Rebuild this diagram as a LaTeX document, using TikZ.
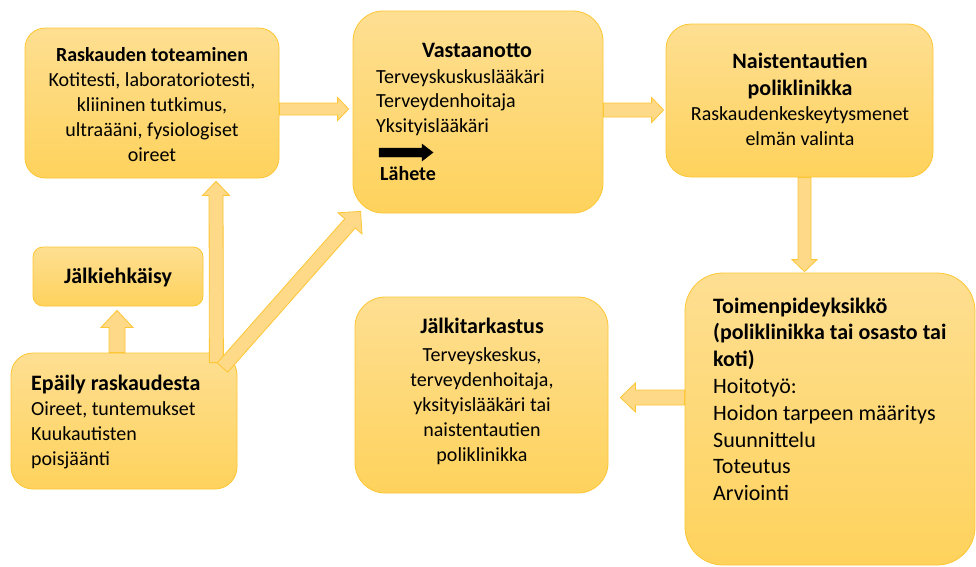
\documentclass[tikz,border=0pt]{standalone}
\usepackage{fontspec}
\setmainfont{Carlito}
\usetikzlibrary{calc}
\definecolor{bxline}{RGB}{252,198,52}
\definecolor{bxtop}{RGB}{254,223,146}
\definecolor{bxbot}{RGB}{254,210,92}
\definecolor{arfill}{RGB}{254,218,136}
\newcommand\fA{\fontsize{20}{25}\selectfont}
\newcommand\fB{\fontsize{22}{25}\selectfont}
\newcommand\blockarrow[6]{%
  \coordinate (bH) at ($(#3)!#6!(#2)$);
  \draw[#1] ($(#2)!#4!90:(#3)$) -- ($(bH)!#4!90:(#3)$) -- ($(bH)!#5!90:(#3)$) -- (#3)
    -- ($(bH)!#5!-90:(#3)$) -- ($(bH)!#4!-90:(#3)$) -- ($(#2)!#4!-90:(#3)$) -- cycle;}
\tikzset{
  box/.style={draw=bxline, line width=0.8pt, top color=bxtop, bottom color=bxbot, rectangle, inner sep=0pt},
  txt/.style={inner sep=0pt, font=\fA},
  yarrow/.style={draw=bxline, fill=arfill, line width=0.8pt, line join=miter},
  karrow/.style={fill=black}
}
\begin{document}
\begin{tikzpicture}[x=1pt,y=-1pt]
\useasboundingbox (0,0) rectangle (976,566);
% boxes
\node[box, rounded corners=20pt, minimum width=254pt, minimum height=150pt] (b1) at (152,103) {};
\node[box, rounded corners=30pt, minimum width=250pt, minimum height=202pt] (b2) at (478,112) {};
\node[box, rounded corners=25pt, minimum width=267pt, minimum height=153pt] (b3) at (799.5,100.5) {};
\node[box, rounded corners=38pt, minimum width=290pt, minimum height=292pt] (b4) at (830,419) {};
\node[box, rounded corners=30pt, minimum width=253pt, minimum height=196pt] (b5) at (481.5,395) {};
\node[box, rounded corners=10pt, minimum width=170pt, minimum height=59pt] (b6) at (118,276.5) {};
\node[box, rounded corners=22pt, minimum width=226pt, minimum height=136pt] (b7) at (124,421) {};
% texts
\node[txt, anchor=base] (t1) at (152,61) {\begin{tabular}[t]{@{}c@{}}\textbf{Raskauden toteaminen}\\Kotitesti, laboratoriotesti,\\kliininen tutkimus,\\ultraääni, fysiologiset\\oireet\end{tabular}};
\node[txt, anchor=base, font=\fB\bfseries] (t2a) at (477,57) {Vastaanotto};
\node[txt, anchor=base west, font=\fontsize{20}{24.5}\selectfont] (t2b) at (376,83) {\begin{tabular}[t]{@{}l@{}}Terveyskuskuslääkäri\\Terveydenhoitaja\\Yksityislääkäri\end{tabular}};
\node[txt, anchor=base west, font=\fA\bfseries] (t2c) at (380,180) {Lähete};
\coordinate (lh1) at (379,152.5);
\coordinate (lh2) at (433,152.5);
\blockarrow{karrow}{lh1}{lh2}{4.5pt}{8.5pt}{11pt}
\node[txt, anchor=base] (t3) at (800,68) {\begin{tabular}[t]{@{}c@{}}\fB\bfseries Naistentautien\\[2pt]\fB\bfseries poliklinikka\\Raskaudenkeskeytysmenet\\elmän valinta\end{tabular}};
\node[txt, anchor=base west, font=\fontsize{22}{26.8}\selectfont] (t4) at (713,313) {\begin{tabular}[t]{@{}l@{}}\textbf{Toimenpideyksikkö}\\\textbf{(poliklinikka tai osasto tai}\\\textbf{koti)}\\Hoitotyö:\\Hoidon tarpeen määritys\\Suunnittelu\\Toteutus\\Arviointi\end{tabular}};
\node[txt, anchor=base] (t5) at (482,333) {\begin{tabular}[t]{@{}c@{}}\fB\bfseries Jälkitarkastus\\[3.5pt]Terveyskeskus,\\terveydenhoitaja,\\yksityislääkäri tai\\naistentautien\\poliklinikka\end{tabular}};
\node[txt, anchor=base, font=\fB\bfseries] (t6) at (118,283) {Jälkiehkäisy};
\node[txt, anchor=base west] (t7) at (31,390) {\begin{tabular}[t]{@{}l@{}}\fB\bfseries Epäily raskaudesta\\Oireet, tuntemukset\\Kuukautisten\\poisjäänti\end{tabular}};
% arrows
\coordinate (a1s) at ($(b1.east)+(0,6)$);
\coordinate (a1e) at ($(b2.west)+(-4,-3)$);
\blockarrow{yarrow}{a1s}{a1e}{6pt}{11.5pt}{11pt}
\coordinate (a2s) at ($(b2.east)+(0,-2)$);
\coordinate (a2e) at ($(b3.west)+(-2,9.5)$);
\blockarrow{yarrow}{a2s}{a2e}{7pt}{12.5pt}{12pt}
\coordinate (a3s) at ($(b3.south)+(5,0)$);
\coordinate (a3e) at ($(b4.north)+(-25.5,-1)$);
\blockarrow{yarrow}{a3s}{a3e}{6.5pt}{12.5pt}{12pt}
\coordinate (a4s) at ($(b4.west)+(0,-21.5)$);
\coordinate (a4e) at ($(b5.east)+(12,2.5)$);
\blockarrow{yarrow}{a4s}{a4e}{7.5pt}{14.5pt}{15pt}
\coordinate (a5s) at ($(b7.north)+(-7,0)$);
\coordinate (a5e) at ($(b6.south)+(-1,4)$);
\blockarrow{yarrow}{a5s}{a5e}{8pt}{16pt}{17pt}
\coordinate (a6s) at ($(b7.north east)+(-21,10)$);
\coordinate (a6e) at ($(b1.south)+(64,3)$);
\blockarrow{yarrow}{a6s}{a6e}{7pt}{13.5pt}{14pt}
\coordinate (a7s) at ($(b7.north east)+(-15,15)$);
\coordinate (a7e) at ($(b2.south west)+(8,-2)$);
\blockarrow{yarrow}{a7s}{a7e}{7pt}{16pt}{16pt}
\end{tikzpicture}
\end{document}
